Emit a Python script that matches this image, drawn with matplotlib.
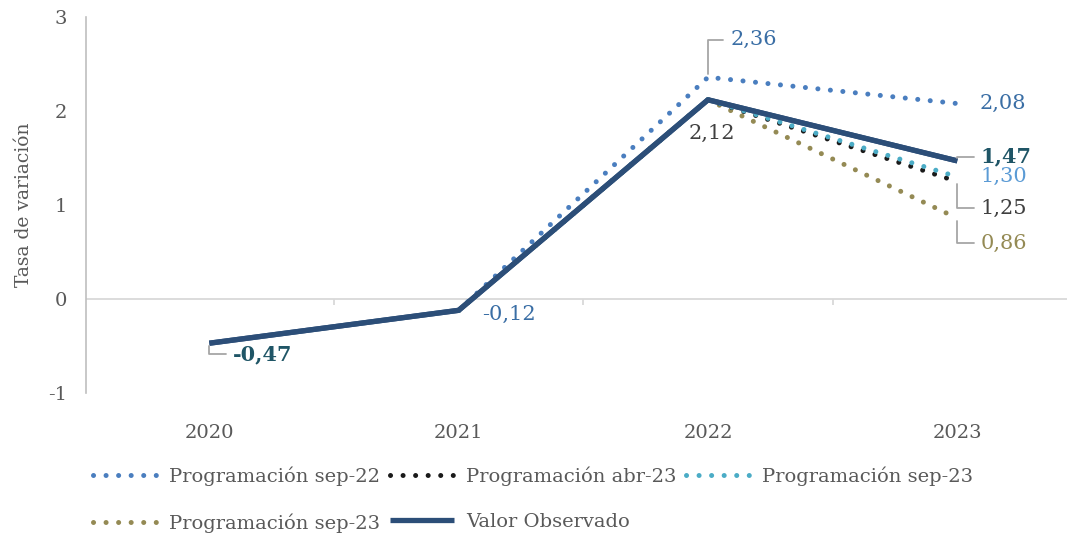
import matplotlib.pyplot as plt

plt.rcParams['font.family'] = ['DejaVu Serif']

years = ["2020", "2021", "2022", "2023"]
x_obs = [0, 1, 2, 3]
observado = [-0.47, -0.12, 2.12, 1.47]
x_prog = [1, 2, 3]
prog_sep22 = [-0.12, 2.36, 2.08]
prog_abr23 = [-0.12, 2.12, 1.25]
prog_sep23 = [-0.12, 2.12, 1.30]
prog_sep23b = [-0.12, 2.12, 0.86]

c_sep22 = "#4a7ebf"
c_abr23 = "#1a1a1a"
c_sep23 = "#4bacc6"
c_sep23b = "#948a54"
c_obs = "#2c4e78"
grey_txt = "#595959"
lead = "#a6a6a6"

fig = plt.figure(figsize=(10.67, 5.34), dpi=100)
ax = fig.add_axes([0.081, 0.264, 0.919, 0.704])

dot = (0, (0.01, 2.5))
kw = dict(lw=3.6, dash_capstyle="round", solid_capstyle="round")
ax.plot(x_prog, prog_sep22, color=c_sep22, linestyle=dot, label="Programación sep-22", **kw)
ax.plot(x_prog, prog_sep23b, color=c_sep23b, linestyle=dot, label="Programación sep-23", **kw)
ax.plot(x_prog, prog_abr23, color=c_abr23, linestyle=dot, label="Programación abr-23", **kw)
ax.plot(x_obs, observado, color=c_obs, lw=3.8, solid_capstyle="butt", label="Valor Observado")
ax.plot(x_prog, prog_sep23, color=c_sep23, linestyle=dot, label="Programación sep-23", **kw)
# observed line drawn on top of the dotted ones
ax.plot(x_obs, observado, color=c_obs, lw=3.8, solid_capstyle="butt", zorder=5)

ax.set_xlim(-0.493, 3.44)
ax.set_ylim(-1, 3)
ax.set_yticks([-1, 0, 1, 2, 3])
ax.set_yticklabels(["-1", "0", "1", "2", "3"])
ax.set_xticks(x_obs)
ax.set_xticklabels(years)
ax.tick_params(axis="y", length=0, pad=14, labelsize=14, labelcolor=grey_txt)
ax.tick_params(axis="x", length=0, pad=22, labelsize=14, labelcolor=grey_txt)
for s in ["top", "right", "bottom"]:
    ax.spines[s].set_visible(False)
ax.spines["left"].set_color("#bfbfbf")
ax.spines["left"].set_linewidth(1.2)
ax.axhline(0, color="#d9d9d9", lw=1.3, zorder=0)
ax.vlines([0.5, 1.5, 2.5], -0.06, 0, color="#d9d9d9", lw=1.3, zorder=0)
ax.set_ylabel("Tasa de variación", fontsize=13.5, color=grey_txt, labelpad=11)


def label(xv, yv, txt, dx, dy, color, bold=False, conn=None, ha="left"):
    ap = None
    if conn is not None:
        ap = dict(arrowstyle="-", color=lead, lw=1.3, shrinkA=3, shrinkB=2,
                  connectionstyle=conn)
    ax.annotate(txt, xy=(xv, yv), xytext=(dx, dy), textcoords="offset points",
                ha=ha, va="center", fontsize=15, color=color,
                fontweight="bold" if bold else "normal", arrowprops=ap, zorder=6)


label(2, prog_sep22[1], "2,36", 16, 27, "#3a6ea5", conn="angle,angleA=180,angleB=90,rad=0")
label(3, prog_sep22[2], "2,08", 16, 0, "#3a6ea5")
label(2, observado[2], "2,12", 3, -24, "#404040", ha="center")
label(3, observado[3], "1,47", 17, 3, "#1f5566", bold=True, conn="angle,angleA=180,angleB=90,rad=0")
label(3, prog_sep23[2], "1,30", 17, 0, "#5b9bd5")
label(3, prog_abr23[2], "1,25", 17, -19, "#404040", conn="angle,angleA=180,angleB=90,rad=0")
label(3, prog_sep23b[2], "0,86", 17, -18, "#948a54", conn="angle,angleA=180,angleB=90,rad=0")
label(1, observado[1], "-0,12", 17, -3, "#3a6ea5")
label(0, observado[0], "-0,47", 17, -8, "#1f5566", bold=True, conn="angle,angleA=180,angleB=90,rad=0")

leg = fig.legend(loc="lower left", bbox_to_anchor=(0.071, -0.03), ncol=3, frameon=False,
                 fontsize=14, handlelength=3.3, columnspacing=0.5, handletextpad=0.6,
                 labelspacing=1.4, labelcolor=grey_txt)

fig.savefig("out.png", dpi=100)
